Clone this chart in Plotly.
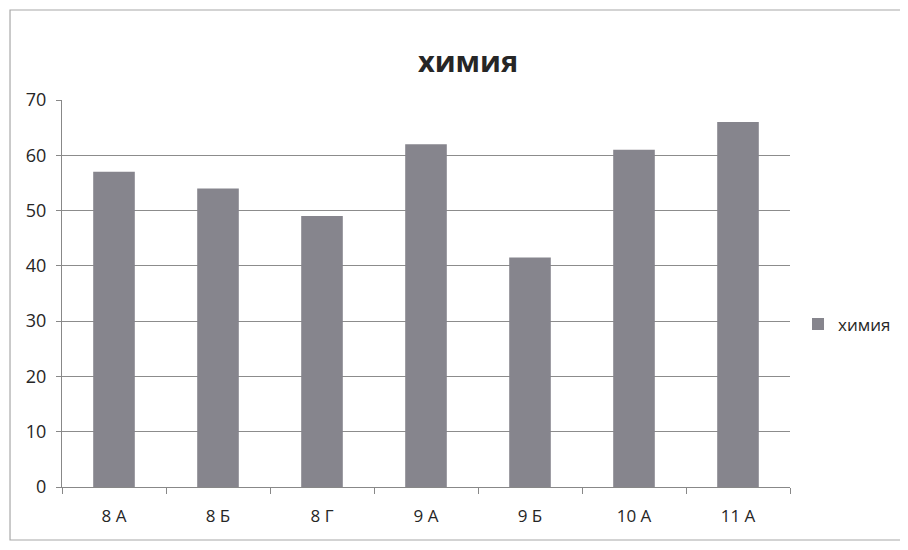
"""
Гистограмма: химия по классам
"""
import plotly.graph_objects as go

# данные
classes = ['8 А', '8 Б', '8 Г', '9 А', '9 Б', '10 А', '11 А']
values = [57, 54, 49, 62, 41.5, 61, 66]
y_ticks = [0, 10, 20, 30, 40, 50, 60, 70]

BAR_COLOR = '#86858d'
GRID_COLOR = '#8c8c8c'
TEXT_COLOR = '#262626'
FONT = 'Open Sans, Noto Sans, sans-serif'

fig = go.Figure()

fig.add_trace(go.Bar(
    x=classes,
    y=values,
    name='химия',
    marker=dict(color=BAR_COLOR, line=dict(width=0)),
    width=0.40,
    showlegend=True
))

# рамка вокруг диаграммы
fig.add_shape(
    type='rect', xref='paper', yref='paper',
    x0=-0.0714, x1=1.158, y0=-0.137, y1=1.2326,
    line=dict(color='#a8a8a8', width=1.2),
    fillcolor='rgba(0,0,0,0)'
)

# страница имеет отступ 8px, поэтому фигура 900x542
fig.update_layout(
    title=dict(
        text='<b>химия</b>',
        x=460 / 900, xanchor='center',
        y=1 - 54 / 542, yanchor='middle',
        font=dict(family=FONT, size=29, color=TEXT_COLOR)
    ),
    width=900,
    height=542,
    margin=dict(l=54, r=118, t=92, b=63, autoexpand=False),
    paper_bgcolor='white',
    plot_bgcolor='white',
    font=dict(family=FONT, size=18, color=TEXT_COLOR),
    legend=dict(
        x=1.011, xanchor='left',
        y=0.42, yanchor='middle',
        font=dict(family=FONT, size=17, color=TEXT_COLOR),
        bgcolor='rgba(0,0,0,0)',
        itemwidth=30
    ),
    xaxis=dict(
        showline=True,
        linecolor='#888888',
        linewidth=1,
        ticks='outside',
        tickson='boundaries',
        ticklen=6,
        tickcolor='#888888',
        showgrid=False,
        ticklabelstandoff=14,
        tickfont=dict(family=FONT, size=17, color=TEXT_COLOR),
    ),
    yaxis=dict(
        range=[0, 70],
        tickvals=y_ticks,
        showline=True,
        linecolor='#888888',
        linewidth=1,
        ticks='outside',
        ticklen=5,
        tickcolor='#888888',
        showgrid=True,
        gridcolor=GRID_COLOR,
        gridwidth=1,
        zeroline=False,
        ticklabelstandoff=6,
        tickfont=dict(family=FONT, size=18, color=TEXT_COLOR),
    ),
)

fig.write_html('out.html')
